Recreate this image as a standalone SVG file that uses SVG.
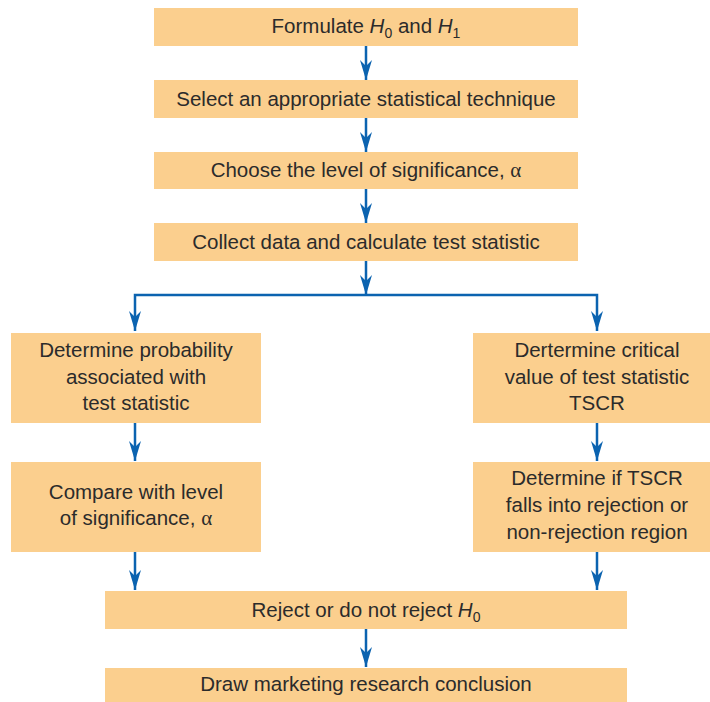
<svg xmlns="http://www.w3.org/2000/svg" width="710" height="702" viewBox="0 0 710 702">
<style>
.box{fill:#FBCF8E;}
.t{font-family:"Liberation Sans",Arial,sans-serif;font-size:20.5px;fill:#2b2b2b;text-anchor:middle;}
.i{font-style:italic;}
.g{font-family:"Liberation Serif","Times New Roman",serif;font-size:21px;}
.c{stroke:#0B63B0;stroke-width:2.5;fill:none;}
</style>
<defs>
<marker id="ah" markerWidth="20" markerHeight="12" refX="20" refY="6" orient="auto-start-reverse" markerUnits="userSpaceOnUse" viewBox="0 0 20 12">
<path d="M0,0 L6,6 L0,12 L20,6 Z" fill="#0B63B0"/>
</marker>
</defs>
<rect width="710" height="702" fill="#fff"/>
<g id="connectors">
<line class="c" x1="366" y1="46" x2="366" y2="80" marker-end="url(#ah)"/>
<line class="c" x1="366" y1="118" x2="366" y2="152" marker-end="url(#ah)"/>
<line class="c" x1="366" y1="189" x2="366" y2="223" marker-end="url(#ah)"/>
<line class="c" x1="366" y1="261" x2="366" y2="295" marker-end="url(#ah)"/>
<polyline class="c" points="135,331 135,295 597,295 597,331" marker-start="url(#ah)" marker-end="url(#ah)"/>
<line class="c" x1="135" y1="423" x2="135" y2="461" marker-end="url(#ah)"/>
<line class="c" x1="597" y1="423" x2="597" y2="461" marker-end="url(#ah)"/>
<line class="c" x1="135" y1="552" x2="135" y2="590" marker-end="url(#ah)"/>
<line class="c" x1="597" y1="552" x2="597" y2="590" marker-end="url(#ah)"/>
<line class="c" x1="366" y1="629" x2="366" y2="667" marker-end="url(#ah)"/>
</g>
<g id="n1"><rect class="box" x="154" y="8" width="424" height="38"/>
<text class="t" x="366" y="33">Formulate <tspan class="i">H</tspan><tspan font-size="14" dy="5">0</tspan><tspan dy="-5"> and </tspan><tspan class="i">H</tspan><tspan font-size="14" dy="5">1</tspan></text></g>
<g id="n2"><rect class="box" x="154" y="80" width="424" height="38"/>
<text class="t" x="366" y="106">Select an appropriate statistical technique</text></g>
<g id="n3"><rect class="box" x="154" y="152" width="424" height="37"/>
<text class="t" x="366" y="177">Choose the level of significance, <tspan class="g">α</tspan></text></g>
<g id="n4"><rect class="box" x="154" y="223" width="424" height="38"/>
<text class="t" x="366" y="249">Collect data and calculate test statistic</text></g>
<g id="n5"><rect class="box" x="11" y="333" width="250" height="90"/>
<text class="t" x="136" y="357">Determine probability</text>
<text class="t" x="136" y="384">associated with</text>
<text class="t" x="136" y="410">test statistic</text></g>
<g id="n6"><rect class="box" x="473" y="333" width="237" height="90"/>
<text class="t" x="597" y="357">Dertermine critical</text>
<text class="t" x="597" y="384">value of test statistic</text>
<text class="t" x="597" y="410">TSCR</text></g>
<g id="n7"><rect class="box" x="11" y="462" width="250" height="90"/>
<text class="t" x="136" y="499">Compare with level</text>
<text class="t" x="136" y="525">of significance, <tspan class="g">α</tspan></text></g>
<g id="n8"><rect class="box" x="473" y="462" width="237" height="90"/>
<text class="t" x="597" y="485">Determine if TSCR</text>
<text class="t" x="597" y="512">falls into rejection or</text>
<text class="t" x="597" y="539">non-rejection region</text></g>
<g id="n9"><rect class="box" x="105" y="591" width="522" height="38"/>
<text class="t" x="366" y="617">Reject or do not reject <tspan class="i">H</tspan><tspan font-size="14" dy="5">0</tspan></text></g>
<g id="n10"><rect class="box" x="105" y="668" width="522" height="34"/>
<text class="t" x="366" y="691">Draw marketing research conclusion</text></g>
</svg>
